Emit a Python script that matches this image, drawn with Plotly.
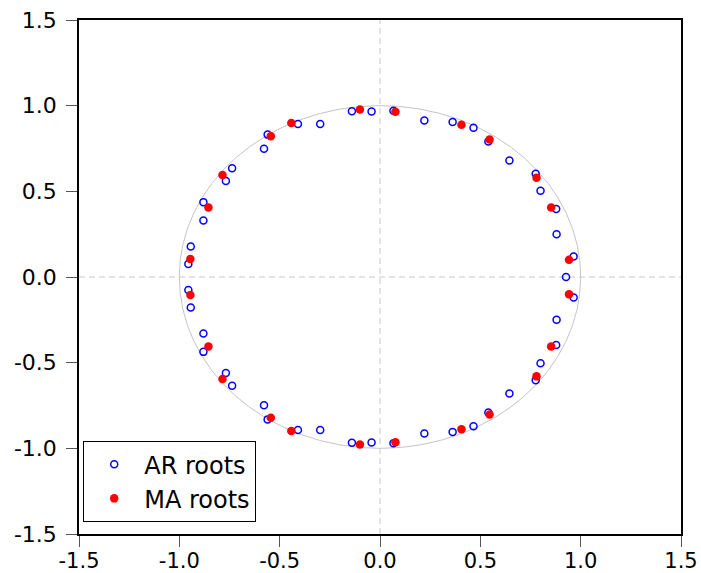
import numpy as np
import plotly.graph_objects as go

# Inverse roots of the AR characteristic polynomial (real, imaginary)
ar_re = [0.927,
         0.067, 0.067, -0.042, -0.042, -0.140, -0.140, 0.221, 0.221,
         0.362, 0.362, 0.466, 0.466, 0.540, 0.540, 0.645, 0.645,
         0.776, 0.776, 0.800, 0.800, 0.878, 0.878, 0.880, 0.880,
         0.965, 0.965, -0.298, -0.298, -0.409, -0.409, -0.560, -0.560,
         -0.578, -0.578, -0.737, -0.737, -0.768, -0.768, -0.880, -0.880,
         -0.880, -0.880, -0.943, -0.943, -0.955, -0.955]
ar_im = [0.0,
         0.970, -0.970, 0.966, -0.966, 0.968, -0.968, 0.913, -0.913,
         0.905, -0.905, 0.871, -0.871, 0.791, -0.791, 0.680, -0.680,
         0.603, -0.603, 0.503, -0.503, 0.397, -0.397, 0.249, -0.249,
         0.119, -0.119, 0.893, -0.893, 0.893, -0.893, 0.831, -0.831,
         0.748, -0.748, 0.635, -0.635, 0.560, -0.560, 0.437, -0.437,
         0.330, -0.330, 0.178, -0.178, 0.076, -0.076]

# Inverse roots of the MA characteristic polynomial (real, imaginary)
ma_re = [-0.100, -0.100, 0.077, 0.077, 0.406, 0.406, 0.546, 0.546,
         0.780, 0.780, 0.853, 0.853, 0.942, 0.942, -0.442, -0.442,
         -0.544, -0.544, -0.785, -0.785, -0.855, -0.855, -0.945, -0.945]
ma_im = [0.977, -0.977, 0.964, -0.964, 0.888, -0.888, 0.802, -0.802,
         0.580, -0.580, 0.406, -0.406, 0.101, -0.101, 0.899, -0.899,
         0.822, -0.822, 0.596, -0.596, 0.406, -0.406, 0.105, -0.105]

tick_vals = [-1.5, -1.0, -0.5, 0.0, 0.5, 1.0, 1.5]
tick_text = ["-1.5", "-1.0", "-0.5", "0.0", "0.5", "1.0", "1.5"]

FONT = "DejaVu Sans, Verdana, sans-serif"

fig = go.Figure()

# unit circle
theta = np.linspace(0, 2 * np.pi, 721)
fig.add_trace(go.Scatter(
    x=np.cos(theta), y=np.sin(theta), mode="lines",
    line=dict(color="#c4c4c4", width=1), hoverinfo="skip", showlegend=False))

fig.add_trace(go.Scatter(
    x=ar_re, y=ar_im, mode="markers", name="AR roots",
    marker=dict(symbol="circle-open", size=7, color="#0000ff",
                line=dict(width=1.5, color="#0000ff"))))
fig.add_trace(go.Scatter(
    x=ma_re, y=ma_im, mode="markers", name="MA roots",
    marker=dict(symbol="circle", size=8.5, color="#ff0000",
                line=dict(width=0))))

fig.add_hline(y=0, line=dict(color="#c8c8c8", width=1, dash="6px,4px"), layer="below")
fig.add_vline(x=0, line=dict(color="#c8c8c8", width=1, dash="6px,4px"), layer="below")

axis_common = dict(
    range=[-1.5, 1.5], tickvals=tick_vals, ticktext=tick_text,
    showgrid=False, zeroline=False, automargin=False,
    showline=True, linecolor="black", linewidth=1.5, mirror=True,
    ticks="outside", ticklen=11, tickwidth=1, tickcolor="#555555",
)

fig.update_layout(
    width=701, height=573,
    margin=dict(l=79, r=20, t=20, b=39),
    paper_bgcolor="white", plot_bgcolor="white",
    xaxis={**axis_common, "ticklabelstandoff": -4,
           "tickfont": dict(family=FONT, size=21, color="black")},
    yaxis={**axis_common, "ticklabelstandoff": 5,
           "tickfont": dict(family=FONT, size=22, color="black")},
    showlegend=True,
    legend=dict(
        x=0.007, y=0.102, xanchor="left", yanchor="middle",
        bgcolor="white", bordercolor="black", borderwidth=1,
        font=dict(family=FONT, size=24, color="black"),
        tracegroupgap=0, itemsizing="trace", itemwidth=50,
    ),
)

fig.write_html("out.html")
